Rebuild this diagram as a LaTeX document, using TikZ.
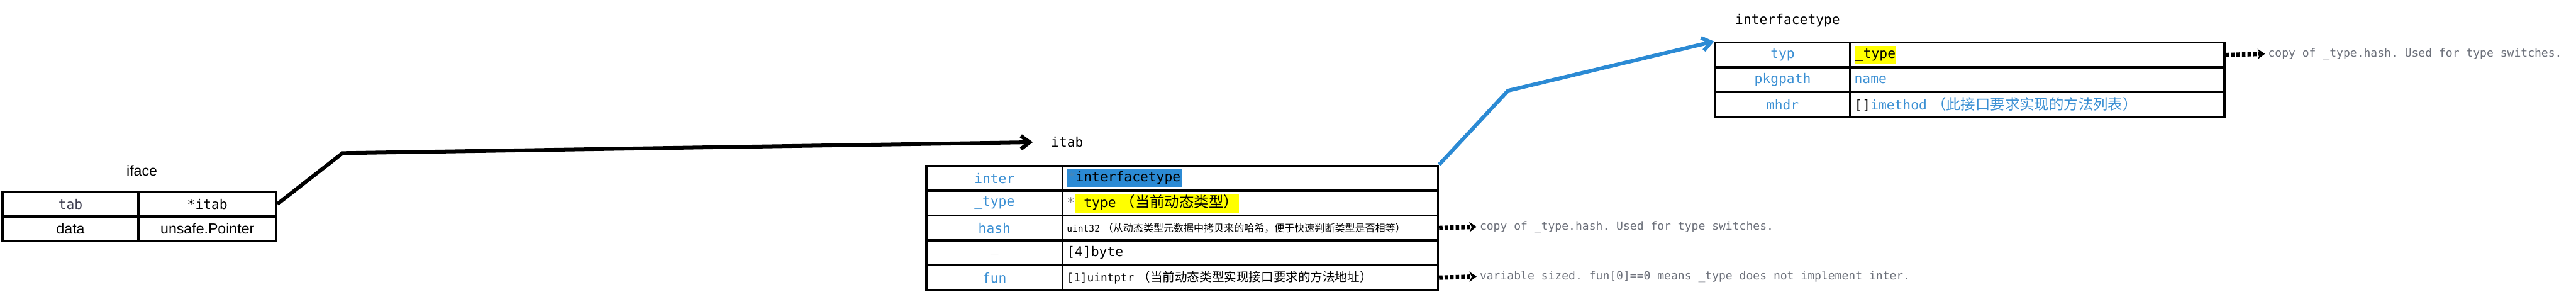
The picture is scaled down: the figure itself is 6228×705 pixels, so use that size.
\documentclass[tikz,border=0pt]{standalone}
\usepackage{fontspec}
\setmainfont{Liberation Sans}
\setmonofont{DejaVu Sans Mono}
\newfontfamily\cjk[Scale=1.1]{Noto Sans CJK SC}
\usepackage{xcolor}
\usetikzlibrary{arrows.meta, positioning}

\definecolor{fieldblue}{HTML}{3A8FD3}
\definecolor{hlblue}{HTML}{2B8AD4}
\definecolor{hlyellow}{HTML}{FFFF00}
\definecolor{notegray}{HTML}{6C707A}
\definecolor{slate}{HTML}{3D3D4F}

\newcommand{\tablefont}{\ttfamily\fontsize{9.2}{11}\selectfont}
\newcommand{\notefont}{\ttfamily\fontsize{7.8}{9.5}\selectfont}
\newcommand{\hl}[2]{{\setlength{\fboxsep}{0.6pt}\colorbox{#1}{\strut #2}}}

\begin{document}
\begin{tikzpicture}[x=0.01cm, y=-0.01cm,
  cell/.style    = {draw, line width=1.6pt, minimum height=0.6cm, inner sep=0pt,
                    anchor=north west, font=\tablefont},
  keycell/.style = {cell, minimum width=3.29cm, text=fieldblue},
  valcell/.style = {cell, text width=#1, inner xsep=3pt, align=left},
  title/.style   = {font=\tablefont},
  note/.style    = {font=\notefont, text=notegray, anchor=west, inner sep=2pt},
  arr/.style     = {-{Straight Barb[length=6pt, width=9pt]}, line width=2.6pt},
  darr/.style    = {-{Stealth[length=5pt, width=7pt]}, line width=3pt,
                    dash pattern=on 2.4pt off 1.4pt},
]
\useasboundingbox (0,0) rectangle (6228,705);

%% iface
\node[font=\rmfamily\fontsize{10}{12}\selectfont] (ifacelbl) at (343,413) {iface};
\node[keycell, text=slate] (tab) at (3,460) {tab};
\node[cell, minimum width=3.33cm] (tabval) at (332,460) {*itab};
\node[keycell, text=black, font=\rmfamily\fontsize{10}{12}\selectfont] (data) at (3,520) {data};
\node[cell, minimum width=3.33cm, font=\rmfamily\fontsize{10}{12}\selectfont] (dataval) at (332,520) {unsafe.Pointer};

%% itab
\node[title] (itablbl) at (2580,343) {itab};
\node[keycell] (inter) at (2237,398) {inter};
\node[valcell=8.86cm] (interval) at (2566,398) {\hl{hlblue}{{\color{hlblue!60!gray}*}interfacetype}};
\node[keycell] (type) at (2237,458) {\_type};
\node[valcell=8.86cm] (typeval) at (2566,458) {{\color{gray}*}\hl{hlyellow}{\_type {\cjk （当前动态类型）}}};
\node[keycell] (hash) at (2237,518) {hash};
\node[valcell=8.86cm, font=\ttfamily\fontsize{6.3}{8}\selectfont] (hashval) at (2566,518)
  {uint32 {\cjk （从动态类型元数据中拷贝来的哈希，便于快速判断类型是否相等）}};
\node[keycell, text=black] (pad) at (2237,578) {\_};
\node[valcell=8.86cm] (padval) at (2566,578) {[4]byte};
\node[keycell] (fun) at (2237,638) {fun};
\node[valcell=8.86cm, font=\ttfamily\fontsize{7.7}{9.5}\selectfont] (funval) at (2566,638)
  {[1]uintptr {\cjk （当前动态类型实现接口要求的方法地址）}};

%% interfacetype
\node[title] (itypelbl) at (4322,50) {interfacetype};
\node[keycell, minimum width=3.26cm] (typ) at (4144,100) {typ};
\node[valcell=8.83cm] (typval) at (4470,100) {\hl{hlyellow}{\_type}};
\node[keycell, minimum width=3.26cm] (pkgpath) at (4144,160) {pkgpath};
\node[valcell=8.83cm, text=fieldblue] (pkgval) at (4470,160) {name};
\node[keycell, minimum width=3.26cm] (mhdr) at (4144,220) {mhdr};
\node[valcell=8.83cm] (mhdrval) at (4470,220)
  {[]{\color{fieldblue}imethod {\cjk （此接口要求实现的方法列表）}}};

%% side notes
\node[note] (hashnote) at (3570,548) {copy of \_type.hash. Used for type switches.};
\node[note] (funnote)  at (3570,668) {variable sized. fun[0]==0 means \_type does not implement inter.};
\node[note] (typnote)  at (5476,130) {copy of \_type.hash. Used for type switches.};

%% iface.tab -> itab
\coordinate (bend1) at (828,370);
\draw[arr, shorten >=9pt] (tabval.east) -- (bend1) -- (itablbl.west);

%% itab.inter -> interfacetype
\coordinate (bend2) at (3646,219);
\draw[arr, hlblue] (interval.north east) -- (bend2) -- (typ.north west);

%% dotted pointers to notes
\draw[darr] (hashval.east) -- (hashnote.west);
\draw[darr] (funval.east)  -- (funnote.west);
\draw[darr] (typval.east)  -- (typnote.west);

\end{tikzpicture}
\end{document}
